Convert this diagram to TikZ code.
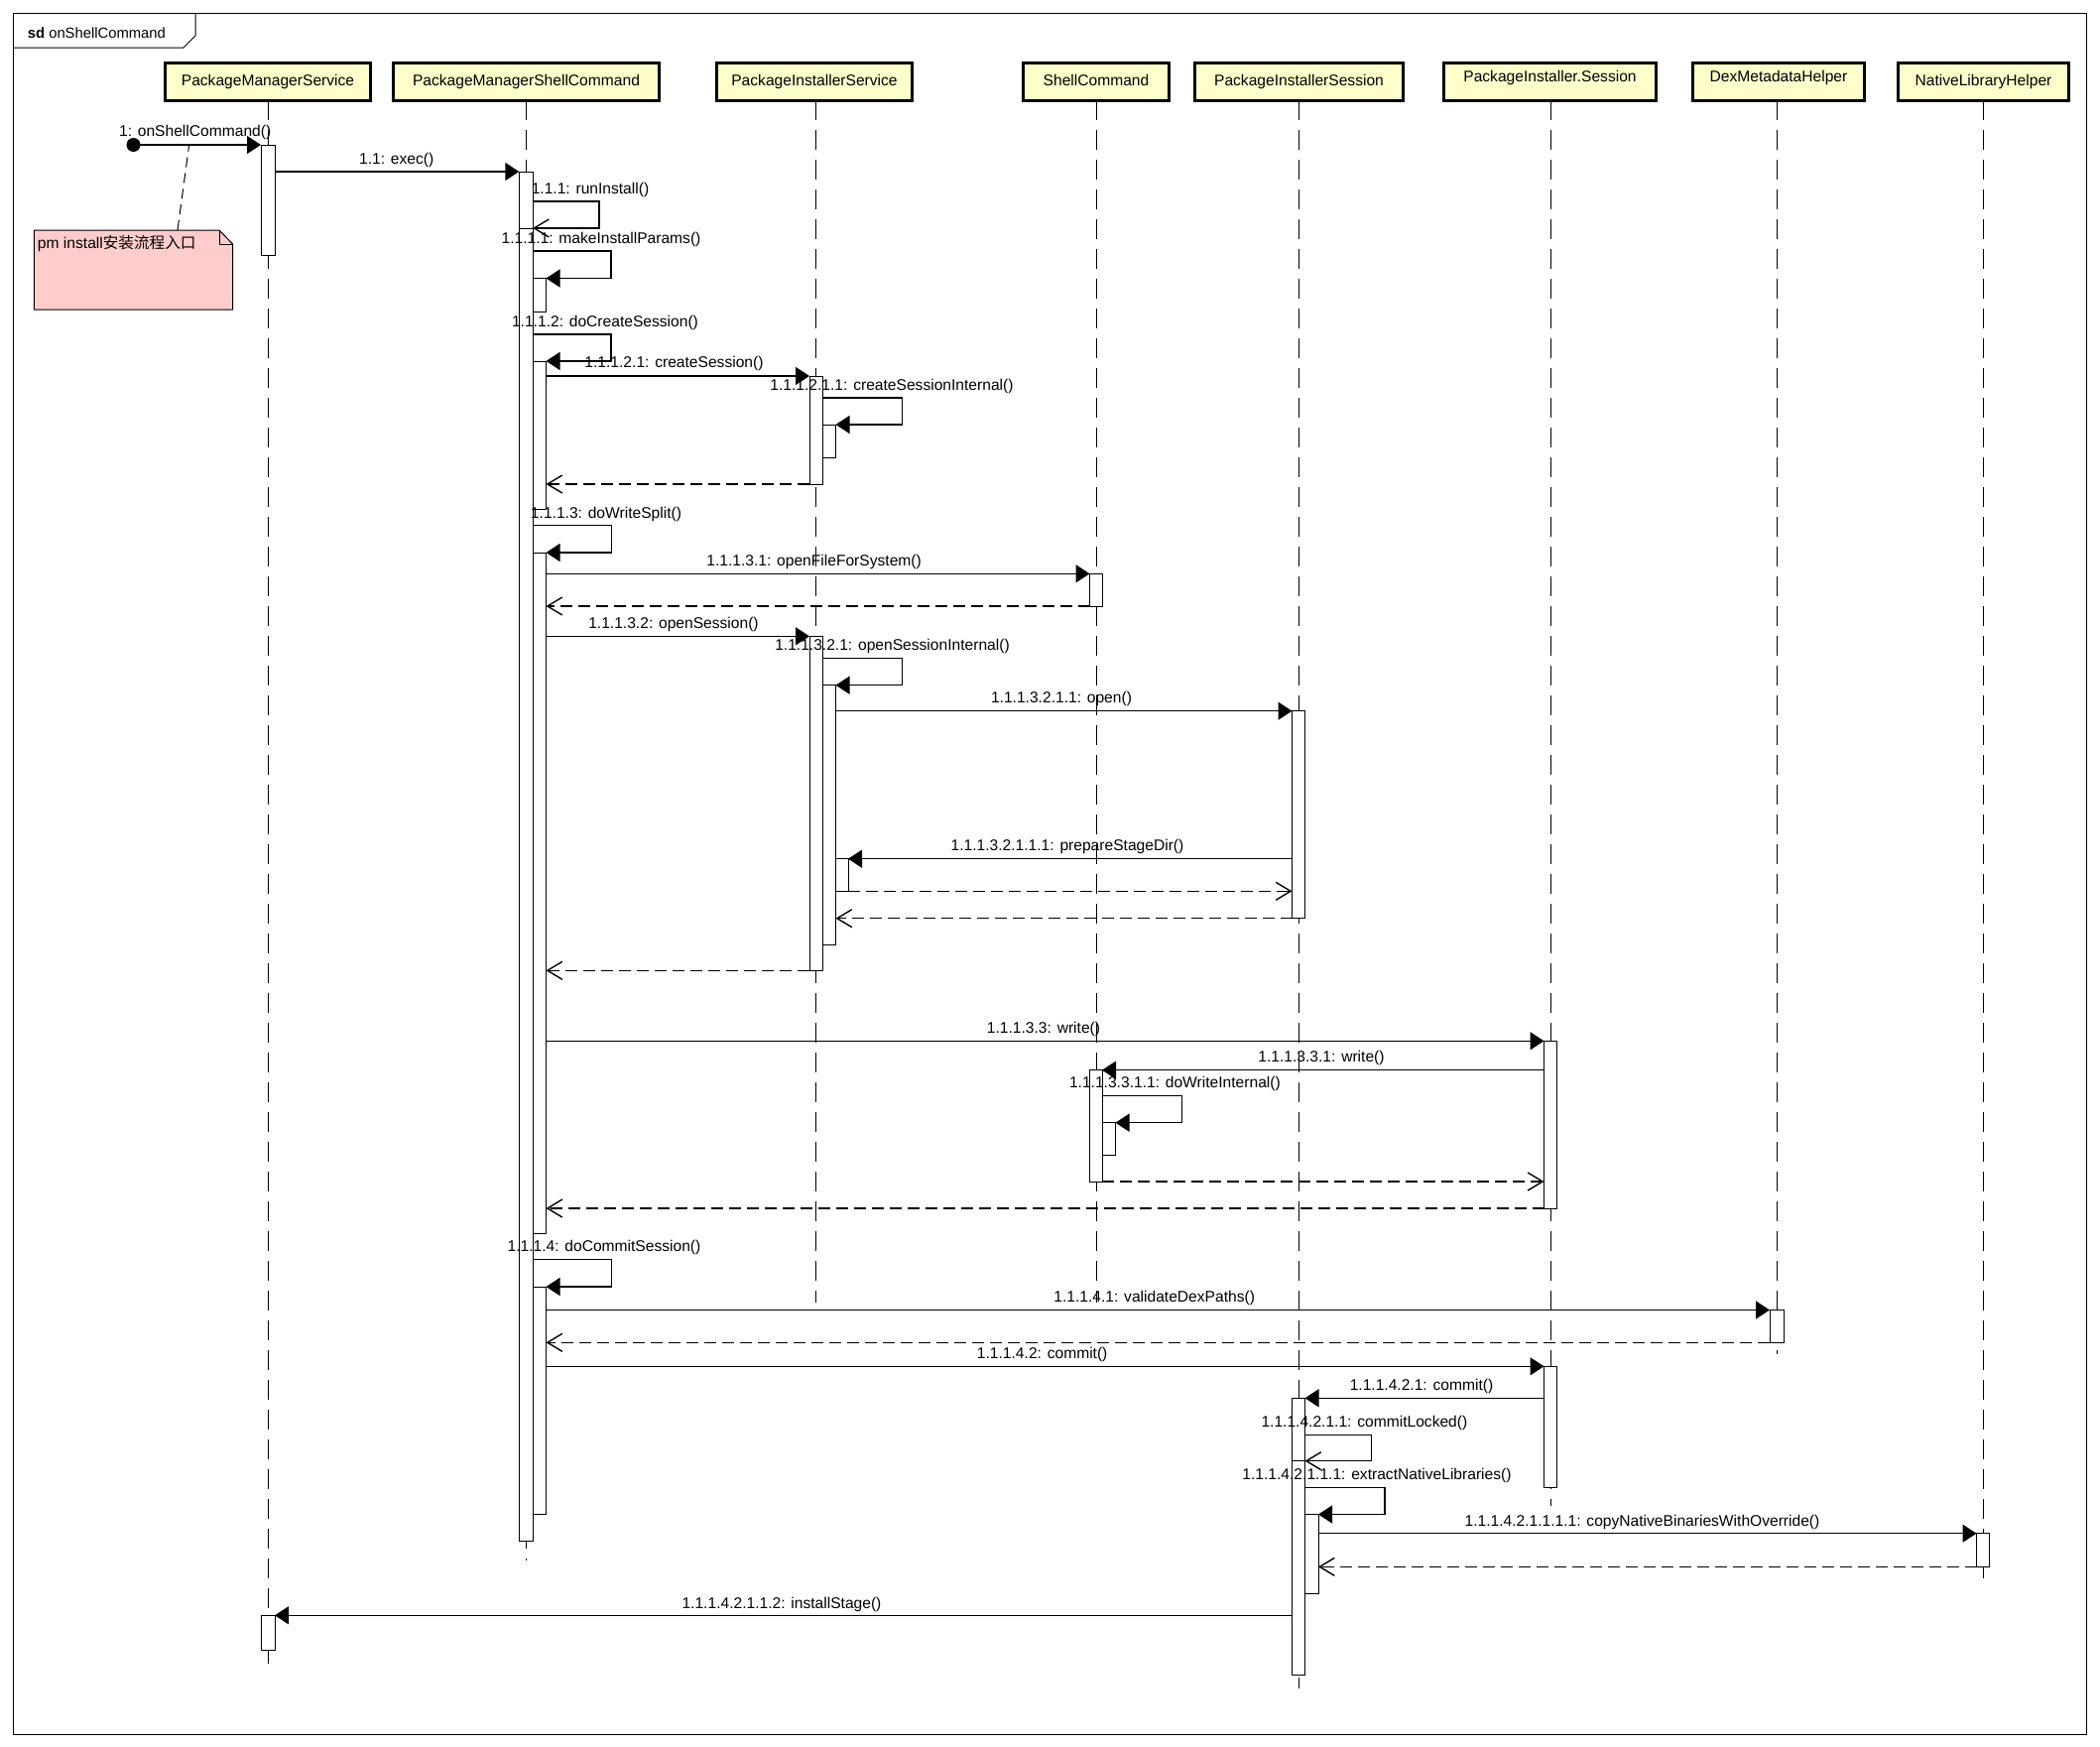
\documentclass[tikz,border=0pt]{standalone}
\usepackage{fontspec}
\setmainfont{Liberation Sans}
\newfontfamily\cjk{Noto Sans CJK SC}
\usetikzlibrary{arrows.meta}
\definecolor{hdrfill}{HTML}{FFFFCC}
\definecolor{notefill}{HTML}{FFCCCC}
\newcommand\txtfont{\fontsize{7.8pt}{9pt}\selectfont}
\tikzset{
  hdrbox/.style={draw, line width=1.6pt, fill=hdrfill, inner sep=0pt, outer sep=0pt,
     minimum height=18.9pt, text height=6pt, text depth=2.5pt, font=\txtfont},
  hdrboxhi/.style={hdrbox, text height=5pt, text depth=4.5pt},
  lifeline/.style={line width=0.5pt, dash pattern=on 10pt off 5pt},
  actbox/.style={draw, fill=white, line width=0.5pt, inner sep=0pt, outer sep=0pt},
  callmsg/.style={line width=0.7pt, -{Triangle[length=7pt,width=9pt]}},
  retmsg/.style={line width=0.7pt, dash pattern=on 6pt off 3pt, -{Straight Barb[length=7.5pt,width=9pt]}},
  selfopen/.style={line width=0.7pt, -{Straight Barb[length=7.5pt,width=9pt]}},
  msglabel/.style={anchor=base, inner sep=0pt, font=\txtfont},
  barline/.style={line width=0.5pt},
  notelink/.style={line width=0.5pt, dash pattern=on 5pt off 3pt},
}
\newcommand\actbar[5]{\node[actbox, anchor=north west, minimum width={(#3-#2)*0.5pt}, minimum height={(#5-#4)*0.5pt}] (#1) at (#2,#4) {};}
\newcommand\hdrnode[5]{\node[#5, minimum width={(#3-#2-3.2)*0.5pt}] (#1) at ({(#2+#3)/2},82.5) {#4};}
\begin{document}
\begin{tikzpicture}[x=0.5pt,y=-0.5pt]
\fill[white] (0,0) rectangle (2117,1761);
\useasboundingbox (0,0) rectangle (2117,1761);

% frame
\draw[line width=0.5pt] (13,13) rectangle (2103,1748);
\draw[line width=0.5pt] (13,48) -- (185,48) -- (197,36) -- (197,13);
\node[anchor=base west, inner sep=0pt, font=\fontsize{7.4pt}{9pt}\selectfont] (sdlabel) at (27.5,38.5) {\textbf{sd} onShellCommand};

% headers
\hdrnode{pms}{165}{375}{PackageManagerService}{hdrbox}
\hdrnode{pmsc}{395}{666}{PackageManagerShellCommand}{hdrbox}
\hdrnode{pisvc}{721}{921}{PackageInstallerService}{hdrbox}
\hdrnode{sc}{1030}{1180}{ShellCommand}{hdrbox}
\hdrnode{piss}{1203}{1416}{PackageInstallerSession}{hdrbox}
\hdrnode{pis}{1454}{1671}{PackageInstaller.Session}{hdrboxhi}
\hdrnode{dmh}{1705}{1881}{DexMetadataHelper}{hdrboxhi}
\hdrnode{nlh}{1912}{2087}{NativeLibraryHelper}{hdrbox}

% lifeline ends
\coordinate (pms-end) at (270,1677);
\coordinate (pmsc-end) at (530,1573);
\coordinate (pisvc-end) at (822.5,1313);
\coordinate (sc-end) at (1105,1313);
\coordinate (piss-end) at (1309,1702);
\coordinate (pis-end) at (1563,1518);
\coordinate (dmh-end) at (1791,1365);
\coordinate (nlh-end) at (1999,1598);

\draw[lifeline] (pms-end |- pms.south) -- (pms-end);
\draw[lifeline] (pmsc-end |- pmsc.south) -- (pmsc-end);
\draw[lifeline] (pisvc-end |- pisvc.south) -- (pisvc-end);
\draw[lifeline] (sc-end |- sc.south) -- (sc-end);
\draw[lifeline] (piss-end |- piss.south) -- (piss-end);
\draw[lifeline] (pis-end |- pis.south) -- (pis-end);
\draw[lifeline] (dmh-end |- dmh.south) -- (dmh-end);
\draw[lifeline] (nlh-end |- nlh.south) -- (nlh-end);

% activation bars
\actbar{pmsA}{263}{277}{146}{257}
\actbar{pmsB}{263}{277}{1628.3}{1663}
\actbar{pmscA}{523.3}{537}{173}{1553}
\actbar{pmscB1}{537}{550.5}{280.5}{314}
\actbar{pmscB2}{537}{550.5}{364}{513}
\actbar{pmscB3}{537}{550.5}{557}{1243}
\actbar{pmscB4}{537}{550.5}{1297}{1526}
\actbar{pisvcA}{816}{829}{379}{488}
\actbar{pisvcA1}{829}{842.5}{428}{461}
\actbar{pisvcB}{816}{829}{641.3}{978.3}
\actbar{pisvcB1}{829}{842.5}{690.7}{952.3}
\actbar{pisvcB2}{842.5}{855}{865.7}{898.3}
\actbar{scA}{1098.5}{1111.5}{578.3}{611}
\actbar{scB}{1098.5}{1111}{1078.7}{1191}
\actbar{scB1}{1111}{1124.5}{1131.7}{1164.3}
\actbar{pissA}{1302.5}{1315.5}{716.7}{925.7}
\actbar{pissB}{1302.5}{1315.5}{1409.3}{1688}
\actbar{pissB1}{1315.5}{1329}{1526.5}{1606}
\actbar{pisA}{1556.5}{1569.5}{1049.3}{1218}
\actbar{pisB}{1556.5}{1569.5}{1377.3}{1499.3}
\actbar{dmhA}{1784}{1798}{1320.5}{1353.3}
\actbar{nlhA}{1992.5}{2005.5}{1545.7}{1579.3}

\draw[barline] (pmscA.west |- 0,230) -- (pmscA.east |- 0,230);
\draw[barline] (pissB.west |- 0,1472.7) -- (pissB.east |- 0,1472.7);

% start point
\node[circle, fill=black, inner sep=0pt, minimum size=7pt] (start) at (134.5,146) {};

% messages
\draw[callmsg] (start.center) -- (pmsA.north west);
\draw[callmsg] (pmsA.east |- pmscA.north west) -- (pmscA.north west);
\draw[selfopen] (pmscA.east |- 0,203) -- ++(67,0) |- (pmscA.east |- 0,230);
\draw[callmsg] (pmscA.east |- 0,253) -- ++(79,0) |- (pmscB1.north east);
\draw[callmsg] (pmscA.east |- 0,337) -- ++(79,0) |- (pmscB2.north east);
\draw[callmsg] (pmscB2.east |- pisvcA.north west) -- (pisvcA.north west);
\draw[callmsg] (pisvcA.east |- 0,401) -- ++(80.5,0) |- (pisvcA1.north east);
\draw[retmsg] (pisvcA.south west) -- (pmscB2.east |- pisvcA.south west);
\draw[callmsg] (pmscA.east |- 0,529.3) -- ++(79.5,0) |- (pmscB3.north east);
\draw[callmsg] (pmscB3.east |- scA.north west) -- (scA.north west);
\draw[retmsg] (scA.south west) -- (pmscB3.east |- scA.south west);
\draw[callmsg] (pmscB3.east |- pisvcB.north west) -- (pisvcB.north west);
\draw[callmsg] (pisvcB.east |- 0,663.3) -- ++(80.5,0) |- (pisvcB1.north east);
\draw[callmsg] (pisvcB1.east |- pissA.north west) -- (pissA.north west);
\draw[callmsg] (pissA.west |- pisvcB2.north east) -- (pisvcB2.north east);
\draw[retmsg] (pisvcB2.south east) -- (pissA.west |- pisvcB2.south east);
\draw[retmsg] (pissA.south west) -- (pisvcB1.east |- pissA.south west);
\draw[retmsg] (pisvcB.south west) -- (pmscB3.east |- pisvcB.south west);
\draw[callmsg] (pmscB3.east |- pisA.north west) -- (pisA.north west);
\draw[callmsg] (pisA.west |- scB.north east) -- (scB.north east);
\draw[callmsg] (scB.east |- 0,1104.3) -- ++(80.7,0) |- (scB1.north east);
\draw[retmsg] (scB.south east) -- (pisA.west |- scB.south east);
\draw[retmsg] (pisA.south west) -- (pmscB3.east |- pisA.south west);
\draw[callmsg] (pmscA.east |- 0,1269.3) -- ++(79.5,0) |- (pmscB4.north east);
\draw[callmsg] (pmscB4.east |- dmhA.north west) -- (dmhA.north west);
\draw[retmsg] (dmhA.south west) -- (pmscB4.east |- dmhA.south west);
\draw[callmsg] (pmscB4.east |- pisB.north west) -- (pisB.north west);
\draw[callmsg] (pisB.west |- pissB.north east) -- (pissB.north east);
\draw[selfopen] (pissB.east |- 0,1446.5) -- ++(67,0) |- (pissB.east |- 0,1472.7);
\draw[callmsg] (pissB.east |- 0,1499.3) -- ++(80.5,0) |- (pissB1.north east);
\draw[callmsg] (pissB1.east |- nlhA.north west) -- (nlhA.north west);
\draw[retmsg] (nlhA.south west) -- (pissB1.east |- nlhA.south west);
\draw[callmsg] (pissB.west |- pmsB.north east) -- (pmsB.north east);

% labels
\node[msglabel] (l1) at (196.7,137) {1: onShellCommand()};
\node[msglabel] (l2) at (399.7,165) {1.1: exec()};
\node[msglabel] (l3) at (595,195) {1.1.1: runInstall()};
\node[msglabel] (l4) at (606,245.7) {1.1.1.1: makeInstallParams()};
\node[msglabel] (l5) at (610,329.7) {1.1.1.2: doCreateSession()};
\node[msglabel] (l6) at (679.5,370.7) {1.1.1.2.1: createSession()};
\node[msglabel] (l7) at (899,393) {1.1.1.2.1.1: createSessionInternal()};
\node[msglabel] (l8) at (611,522) {1.1.1.3: doWriteSplit()};
\node[msglabel] (l9) at (820.6,570) {1.1.1.3.1: openFileForSystem()};
\node[msglabel] (l10) at (679,633.3) {1.1.1.3.2: openSession()};
\node[msglabel] (l11) at (899.5,655.7) {1.1.1.3.2.1: openSessionInternal()};
\node[msglabel] (l12) at (1070,708.3) {1.1.1.3.2.1.1: open()};
\node[msglabel] (l13) at (1076,857.3) {1.1.1.3.2.1.1.1: prepareStageDir()};
\node[msglabel] (l14) at (1052,1041.7) {1.1.1.3.3: write()};
\node[msglabel] (l15) at (1332,1070.7) {1.1.1.3.3.1: write()};
\node[msglabel] (l16) at (1184.4,1096.7) {1.1.1.3.3.1.1: doWriteInternal()};
\node[msglabel] (l17) at (609,1261.7) {1.1.1.4: doCommitSession()};
\node[msglabel] (l18) at (1163.7,1312.3) {1.1.1.4.1: validateDexPaths()};
\node[msglabel] (l19) at (1050.7,1369.7) {1.1.1.4.2: commit()};
\node[msglabel] (l20) at (1433,1401.3) {1.1.1.4.2.1: commit()};
\node[msglabel] (l21) at (1375.4,1438) {1.1.1.4.2.1.1: commitLocked()};
\node[msglabel] (l22) at (1388,1491.7) {1.1.1.4.2.1.1.1: extractNativeLibraries()};
\node[msglabel] (l23) at (1655.5,1538) {1.1.1.4.2.1.1.1.1: copyNativeBinariesWithOverride()};
\node[msglabel] (l24) at (788,1621.3) {1.1.1.4.2.1.1.2: installStage()};

% note
\draw[line width=0.5pt, fill=notefill] (34.4,232) -- (221,232) -- (234.6,246) -- (234.6,312) -- (34.4,312) -- cycle;
\draw[line width=0.5pt] (221,232) -- (221,246) -- (234.6,246);
\coordinate (note-anchor) at (179,232);
\coordinate (msg-anchor) at (190.5,147);
\draw[notelink] (note-anchor) -- (msg-anchor);
\node[anchor=base west, inner sep=0pt, font=\txtfont] (notetext) at (37.6,250) {pm install{\cjk 安装流程入口}};
\end{tikzpicture}
\end{document}
